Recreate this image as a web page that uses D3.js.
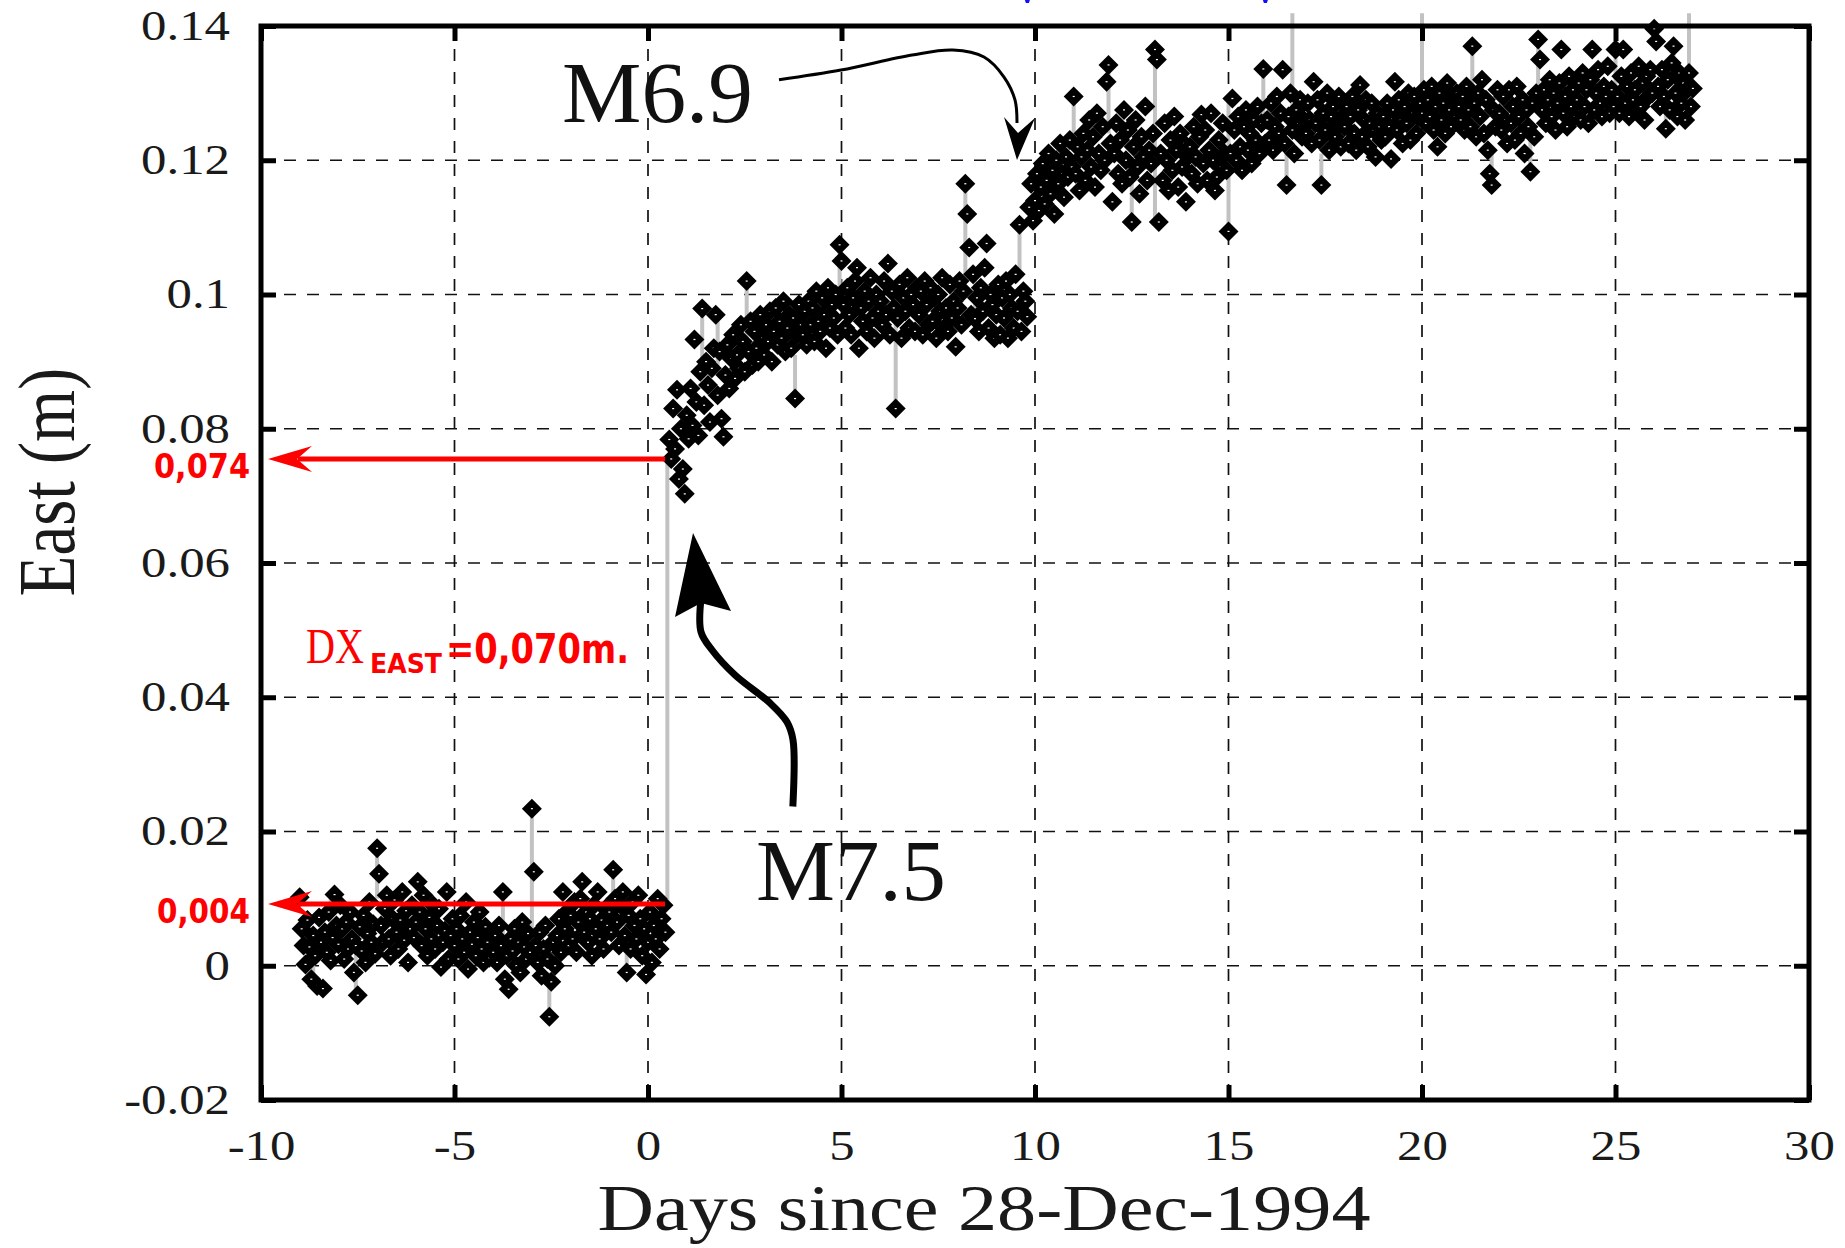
<!DOCTYPE html>
<html><head><meta charset="utf-8">
<script src="https://cdn.jsdelivr.net/npm/d3@7"></script>
<style>body{margin:0;background:#fff;} svg{display:block;}</style>
</head><body>
<svg id="chart" width="1845" height="1248"></svg>
<script>
// ---------------- data ----------------
const xTicks = [-10, -5, 0, 5, 10, 15, 20, 25, 30];
const xTickLabels = ["-10", "-5", "0", "5", "10", "15", "20", "25", "30"];
const yTicks = [-0.02, 0, 0.02, 0.04, 0.06, 0.08, 0.1, 0.12, 0.14];
const yTickLabels = ["-0.02", "0", "0.02", "0.04", "0.06", "0.08", "0.1", "0.12", "0.14"];
const xTitle = "Days since 28-Dec-1994";
const yTitle = "East (m)";
const stepDays = 0.05;

// East displacement (mm), before the M7.5 event
const preStart = -9.0;
const preEastMM = [
  10.2, 5.5, 3.0, 0.2, 6.8, 2.8, -2.0, 4.5, 1.5, -3.0, 7.2, 3.5, -3.4, 5.0, 2.0, 8.0, 0.8, 4.2, 10.6, 6.0,
  3.2, 9.0, 5.5, 1.0, 6.5, 2.5, 8.0, 4.0, -1.0, 3.0, -4.4, 5.8, 2.2, 7.5, 0.5, 4.8, 9.5, 3.5, 6.2, 1.8,
  17.5, 13.7, 6.0, 3.5, 8.5, 10.5, 4.0, 1.5, 7.0, 9.8, 5.0, 2.5, 6.8, 11.0, 3.8, 8.2, 0.5, 5.5, 9.0, 4.2,
  6.5, 12.5, 8.0, 3.0, 10.5, 5.5, 1.5, 7.2, 4.0, 9.0, 2.5, 6.0, 8.5, -0.2, 3.5, 5.2, 11.0, 1.0, 4.5, 7.0,
  3.0, 5.5, 1.0, 7.5, 4.0, 2.0, 9.5, -0.5, 5.0, 3.2, 6.5, 1.5, 4.2, 8.0, 2.5, 0.5, 5.8, 3.5, 1.2, 4.8,
  2.0, 4.5, 0.5, 6.0, 3.0, 11.0, -2.0, 1.5, -3.5, 4.0, 2.2, 5.5, 0.0, 3.5, -1.0, 6.5, 2.8, 1.0, 4.8, 2.0,
  23.4, 14.0, 3.0, 0.5, 5.0, -1.5, 2.5, 6.0, 1.0, -7.6, -2.4, 3.5, 0.0, 4.5, 7.0, 2.0, 11.0, 5.5, 8.0, 3.0,
  7.5, 4.0, 9.5, 2.0, 6.5, 10.0, 12.5, 5.0, 8.0, 3.5, 7.0, 1.5, 9.0, 5.5, 11.0, 4.0, 6.8, 2.5, 8.5, 6.0,
  8.0, 5.0, 14.3, 10.0, 6.5, 3.0, 9.0, 11.0, 4.5, -1.0, 7.5, 2.5, 9.5, 6.0, 4.0, 10.5, 7.0, 1.5, 5.5, -1.3,
  3.5, 8.0, 0.5, 6.0, 4.0, 10.0, 2.5, 7.0, 9.0, 5.0
];

// after M7.5, before M6.9
const postStart = 0.55;
const postEastMM = [
  78.4, 75.5, 83.0, 77.0, 85.8, 72.5, 80.0, 74.0, 70.3,
  82.0, 78.5, 86.0, 80.5, 93.3, 84.0, 79.0, 88.5, 97.9, 83.5, 90.0, 86.5, 81.0, 89.0, 92.0, 97.0, 85.0, 91.5, 81.5, 78.8,
  88.0, 92.5, 86.0, 90.5, 94.0, 87.5, 91.0, 89.0, 95.5, 93.0, 88.5, 102.0, 91.5, 96.0, 89.5, 94.5, 92.0, 90.0, 97.0, 93.5,
  91.0, 95.5, 93.0, 97.5, 90.0, 94.5, 98.0, 92.5, 96.0, 93.5, 99.0, 91.5, 95.0, 97.0, 92.0, 96.5, 84.5, 94.0, 98.5, 95.5,
  94.0, 97.5, 92.5, 99.0, 95.5, 98.0, 93.0, 100.5, 96.0, 94.5, 99.5, 97.0, 92.0, 101.0, 95.0, 98.5, 96.5, 100.0, 94.0, 107.4,
  105.0, 98.5, 95.0, 101.0, 97.0, 94.0, 99.5, 102.0, 104.0, 92.0, 98.0, 96.0, 100.5, 94.5, 99.0, 102.5, 96.5, 93.5, 100.0, 97.5,
  99.0, 95.5, 102.0, 97.0, 104.6, 94.0, 100.5, 98.0, 83.0, 96.5, 101.5, 93.5, 99.5, 97.5, 102.5, 95.0, 100.0, 98.5, 94.5, 101.0,
  97.0, 100.5, 94.0, 102.0, 98.5, 95.5, 101.0, 96.0, 99.5, 93.5, 100.0, 97.5, 102.5, 95.0, 98.0, 94.5, 101.5, 96.5, 99.0, 92.2,
  98.0, 102.0, 95.5, 100.5, 116.5, 112.0, 107.0, 97.0, 103.0, 96.4, 99.5, 94.5, 101.0, 97.5, 104.0, 107.6, 95.0, 100.0, 98.5, 93.5,
  97.0, 101.5, 94.0, 99.5, 96.5, 102.0, 93.5, 100.0, 98.0, 95.0, 103.0, 97.5, 110.4, 94.5, 100.5, 99.0, 96.7
];

// after M6.9
const lateStart = 9.85;
const lateEastMM = [
  113.0, 116.5, 111.0,
  114.0, 118.0, 112.5, 116.0, 119.5, 113.5, 117.0, 121.0, 115.0, 118.5, 112.0, 120.0, 116.5, 122.5, 118.0, 114.5, 120.5, 117.5, 123.0, 119.0,
  129.5, 118.0, 122.0, 115.5, 120.5, 124.0, 117.0, 121.5, 126.0, 119.0, 123.5, 116.0, 127.0, 121.0, 118.5, 125.0, 120.0, 131.7, 134.2, 122.5,
  113.8, 121.0, 125.5, 118.0, 123.0, 116.5, 127.5, 120.0, 124.5, 117.5, 110.8, 122.0, 126.0, 119.0, 115.0, 123.5, 120.5, 128.0, 117.0, 121.5,
  119.5, 124.0, 136.5, 135.0, 110.8, 121.0, 117.0, 125.5, 120.0, 115.5, 123.0, 118.5, 126.5, 121.5, 116.0, 124.0, 119.0, 122.5, 113.8, 120.5,
  122.0, 118.0, 125.0, 120.5, 116.5, 123.5, 126.8, 119.5, 124.5, 117.0, 121.5, 127.0, 120.0, 115.5, 117.5, 123.0, 119.0, 125.5, 121.0, 118.5,
  109.4, 121.0, 129.2, 124.5, 120.0, 126.5, 122.0, 118.5, 125.0, 127.5, 121.5, 124.0, 119.5, 126.0, 123.0, 128.0, 121.0, 125.5, 133.6, 122.5,
  126.0, 123.0, 128.5, 121.5, 125.0, 129.5, 124.0, 127.0, 133.5, 122.5, 116.3, 126.5, 130.0, 124.5, 121.0, 127.5, 125.5, 129.0, 123.5, 126.0,
  124.0, 128.5, 126.0, 122.5, 131.7, 125.5, 129.0, 123.0, 116.3, 127.0, 124.5, 130.0, 121.5, 126.5, 128.0, 123.5, 125.0, 129.5, 122.0, 126.5,
  125.0, 128.0, 122.5, 126.5, 129.5, 124.0, 121.5, 127.5, 131.2, 123.5, 126.0, 129.0, 122.0, 125.5, 128.5, 124.5, 120.5, 127.0, 125.0, 123.0,
  126.5, 123.5, 128.5, 125.0, 120.2, 127.5, 131.7, 124.5, 129.0, 126.0, 122.5, 128.0, 125.5, 130.0, 123.0, 127.0, 129.5, 124.0, 126.5, 128.5,
  127.0, 130.5, 125.5, 129.0, 126.5, 131.0, 124.5, 128.0, 122.0, 130.0, 126.0, 128.5, 124.0, 131.5, 127.5, 125.0, 129.5, 126.5, 130.0, 128.0,
  126.0, 129.5, 124.5, 131.0, 127.5, 125.0, 137.0, 128.5, 123.5, 130.0, 126.5, 132.0, 124.0, 129.0, 121.5, 118.0, 116.3, 127.5, 125.0, 130.5,
  127.0, 124.5, 129.5, 126.0, 122.5, 130.5, 125.5, 128.0, 123.0, 131.0, 126.5, 124.0, 129.0, 121.0, 127.5, 125.0, 118.3, 128.5, 123.5, 130.0,
  138.0, 135.0, 127.5, 130.5, 125.5, 129.0, 132.0, 126.5, 130.0, 124.5, 128.5, 131.5, 136.5, 127.0, 129.5, 125.0, 132.5, 128.0, 130.5, 126.5,
  129.0, 131.5, 126.0, 133.0, 128.0, 130.5, 125.5, 132.0, 136.5, 127.5, 130.0, 133.5, 128.5, 126.5, 131.0, 129.5, 134.0, 127.0, 130.5, 128.0,
  136.5, 129.5, 127.0, 132.5, 136.5, 128.5, 131.0, 126.5, 133.0, 129.0, 130.5, 127.5, 134.0, 128.0, 131.5, 126.0, 132.5, 129.5, 133.5, 130.0,
  139.6, 137.7, 131.0, 128.0, 133.5, 129.5, 124.7, 132.0, 127.5, 134.5, 137.0, 130.0, 126.5, 133.0, 128.5, 131.5, 126.0, 130.5, 133.0, 128.0,
  130.7
];

// visible (large) error bars: day, low (mm), high (mm)
const errDay    = [-8.65, -8.2, -7.55, -7.0, -3.75, -3.0, -2.55, -0.9, -0.55, 0.5, 1.4, 1.8, 2.55, 3.8, 4.95, 6.4, 8.2, 8.45, 9.6, 11.0, 11.9, 12.5, 13.1, 15.0, 15.9, 16.5, 16.65, 17.4, 20.0, 20.4, 21.3, 21.8, 22.8, 23.0, 25.0, 26.3, 26.5, 26.9];
const errLowMM  = [-3, 4, -4.4, 10, 4, 5, -7.6, 8, -1, 9, 88, 88, 93, 84.5, 99, 83, 103, 96.4, 103, 123, 124, 110.8, 110.8, 109.4, 125, 116.3, 128, 116.3, 128, 122, 130, 116.3, 118.3, 128, 128, 124.7, 130, 128];
const errHighMM = [5.5, 11, 3, 17.5, 11, 23.4, -1, 14.3, 3, 75, 98, 97, 102, 91, 107.4, 96, 116.5, 103, 110.4, 129.5, 134.2, 118, 136.5, 129, 133.6, 121, 141.9, 121, 141.9, 127, 137, 122, 123, 138, 136.5, 129, 137, 141.9];

// annotation anchor points (day, metres)
const m69Label = [-2.222, 0.1257];
const m69Curve = [[3.385, 0.1320], [4.987, 0.13344], [6.822, 0.13568], [7.881, 0.13642], [8.682, 0.13538], [9.199, 0.13240], [9.483, 0.12898], [9.535, 0.12555]];
const m69Head = [[9.535, 0.12004], [9.199, 0.12644], [9.561, 0.12406], [10.0, 0.12629]];
const m75Label = [2.791, 0.0098];
const m75Curve = [[3.747, 0.02425], [3.747, 0.03363], [3.592, 0.03631], [3.152, 0.03914], [2.248, 0.04331], [1.654, 0.04704], [1.370, 0.04972], [1.370, 0.05474]];
const m75Head = [[1.163, 0.06447], [0.698, 0.05196], [1.370, 0.05404], [2.145, 0.05285]];
const redArrowDayFrom = 0.439, redArrowDayTo = -9.819;
const redArrowLevels = [0.07549, 0.0092];
const redArrowLabels = ["0,074", "0,004"];
const blueFragmentDays = [9.79, 15.94];

// ---------------- drawing ----------------
const pLeft = 261, pRight = 1809, pTop = 26, pBottom = 1100;
const x = d3.scaleLinear().domain([-10, 30]).range([pLeft, pRight]);
const y = d3.scaleLinear().domain([-0.02, 0.14]).range([pBottom, pTop]);
const svg = d3.select("#chart");
const serif = "'Liberation Serif','Times New Roman',serif";
const comic = "'Comic Sans MS','DejaVu Sans',sans-serif";

function stretch(sel, k) {
  sel.each(function () {
    const w = this.getComputedTextLength();
    d3.select(this).attr("textLength", w * k).attr("lengthAdjust", "spacingAndGlyphs");
  });
}
function fitTo(sel, w) {
  sel.attr("textLength", w).attr("lengthAdjust", "spacingAndGlyphs");
  return sel;
}

// clipped blue caption remnants at the very top (tiny fragments only)
svg.append("g").attr("fill", "#1010ff").selectAll("path")
  .data(blueFragmentDays).join("path")
  .attr("d", d => `M${x(d) - 2},0h5l-1,3h-3z`);

// grid
const grid = svg.append("g").attr("stroke", "#111").attr("stroke-width", 1.7).attr("stroke-dasharray", "12,11");
grid.selectAll(".gx").data(xTicks.slice(1, -1)).join("line").attr("class", "gx")
  .attr("x1", d => x(d)).attr("x2", d => x(d)).attr("y1", pTop).attr("y2", pBottom);
grid.selectAll(".gy").data(yTicks.slice(1, -1)).join("line").attr("class", "gy")
  .attr("y1", d => y(d)).attr("y2", d => y(d)).attr("x1", pLeft).attr("x2", pRight);

// data points
const pts = [];
function addSeg(start, arr) { arr.forEach((v, i) => pts.push({ d: start + i * stepDays, v: v / 1000 })); }
addSeg(preStart, preEastMM);
addSeg(postStart, postEastMM);
addSeg(lateStart, lateEastMM);

// error bars
svg.append("g").attr("stroke", "#c2c2c2").attr("stroke-width", 4)
  .selectAll("line").data(errDay).join("line")
  .attr("x1", d => x(d)).attr("x2", d => x(d))
  .attr("y1", (d, i) => y(errLowMM[i] / 1000)).attr("y2", (d, i) => y(errHighMM[i] / 1000));

const dm = 10;
const diamond = `M0,${-dm}L${dm},0L0,${dm}L${-dm},0Z`;
const hole = `M-1,-0.6h2v1.2h-2z`;
const pg = svg.append("g");
const gp = pg.selectAll("g").data(pts).join("g")
  .attr("transform", p => `translate(${x(p.d)},${y(p.v)})`);
gp.append("path").attr("d", diamond).attr("fill", "#000");
gp.append("path").attr("d", hole).attr("fill", "#fff");

// axes (inward ticks on all four sides)
const tickLen = 15;
const axB = svg.append("g").attr("transform", `translate(0,${pBottom})`)
  .call(d3.axisBottom(x).tickValues(xTicks).tickFormat((d, i) => xTickLabels[i]).tickSizeInner(-tickLen).tickSizeOuter(0).tickPadding(30));
const axL = svg.append("g").attr("transform", `translate(${pLeft},0)`)
  .call(d3.axisLeft(y).tickValues(yTicks).tickFormat((d, i) => yTickLabels[i]).tickSizeInner(-tickLen).tickSizeOuter(0).tickPadding(31));
const axT = svg.append("g").attr("transform", `translate(0,${pTop})`)
  .call(d3.axisTop(x).tickValues(xTicks).tickFormat("").tickSizeInner(-tickLen).tickSizeOuter(0));
const axR = svg.append("g").attr("transform", `translate(${pRight},0)`)
  .call(d3.axisRight(y).tickValues(yTicks).tickFormat("").tickSizeInner(-tickLen).tickSizeOuter(0));
[axB, axL, axT, axR].forEach(a => {
  a.select(".domain").remove();
  a.selectAll(".tick line").attr("stroke", "#000").attr("stroke-width", 5);
  a.selectAll("text").attr("font-family", serif).attr("font-size", 42).attr("fill", "#1a1a1a");
});
stretch(axB.selectAll("text"), 1.21);
stretch(axL.selectAll("text"), 1.21);

// frame
svg.append("rect").attr("x", pLeft).attr("y", pTop).attr("width", pRight - pLeft).attr("height", pBottom - pTop)
  .attr("fill", "none").attr("stroke", "#000").attr("stroke-width", 5);

// axis titles
fitTo(svg.append("text").attr("x", 984).attr("y", 1230).attr("text-anchor", "middle")
  .attr("font-family", serif).attr("font-size", 65).attr("fill", "#1a1a1a").text(xTitle), 773);
svg.append("text").attr("transform", "translate(74,482) scale(1.21,1) rotate(-90)")
  .attr("text-anchor", "middle").attr("font-family", serif).attr("font-size", 67).attr("fill", "#1a1a1a").text(yTitle);

// M6.9 annotation
fitTo(svg.append("text").attr("x", x(m69Label[0])).attr("y", y(m69Label[1]))
  .attr("font-family", serif).attr("font-size", 86).attr("fill", "#111").text("M6.9"), 191);
const lineGen = d3.line().x(p => x(p[0])).y(p => y(p[1])).curve(d3.curveCatmullRom.alpha(0.5));
const polyGen = d3.line().x(p => x(p[0])).y(p => y(p[1]));
svg.append("path").attr("d", lineGen(m69Curve)).attr("fill", "none").attr("stroke", "#000").attr("stroke-width", 3);
svg.append("path").attr("d", polyGen(m69Head) + "Z").attr("fill", "#000");

// M7.5 annotation
fitTo(svg.append("text").attr("x", x(m75Label[0])).attr("y", y(m75Label[1]))
  .attr("font-family", serif).attr("font-size", 87).attr("fill", "#111").text("M7.5"), 190);
svg.append("path").attr("d", lineGen(m75Curve)).attr("fill", "none").attr("stroke", "#000").attr("stroke-width", 7).attr("stroke-linecap", "square");
svg.append("path").attr("d", polyGen(m75Head) + "Z").attr("fill", "#000");

// red arrows and labels
const red = "#ff0000";
redArrowLevels.forEach((lv, i) => {
  const yy = y(lv), xTip = x(redArrowDayTo), xFrom = x(redArrowDayFrom);
  svg.append("line").attr("x1", xFrom).attr("x2", xTip + 30).attr("y1", yy).attr("y2", yy)
    .attr("stroke", red).attr("stroke-width", 5);
  svg.append("path").attr("d", `M${xTip},${yy}L${xTip + 44},${yy - 13}L${xTip + 29},${yy}L${xTip + 44},${yy + 13}Z`).attr("fill", red);
  fitTo(svg.append("text").attr("x", xTip - 18).attr("y", yy + 19).attr("text-anchor", "end")
    .attr("font-family", comic).attr("font-weight", "bold").attr("font-size", 33).attr("fill", red).text(redArrowLabels[i]), i === 0 ? 96 : 93);
});

// displacement label (one text, subscript as tspan)
const dxt = svg.append("text").attr("x", 306).attr("y", 663).attr("fill", red);
fitTo(dxt.append("tspan").attr("x", 306).attr("y", 663).attr("font-family", serif).attr("font-size", 50).text("DX"), 58);
fitTo(dxt.append("tspan").attr("x", 370).attr("y", 673).attr("font-family", comic).attr("font-weight", "bold").attr("font-size", 26).text("EAST"), 72);
fitTo(dxt.append("tspan").attr("x", 446).attr("y", 663).attr("font-family", comic).attr("font-weight", "bold").attr("font-size", 41).text("=0,070m."), 183);
</script>
</body></html>
